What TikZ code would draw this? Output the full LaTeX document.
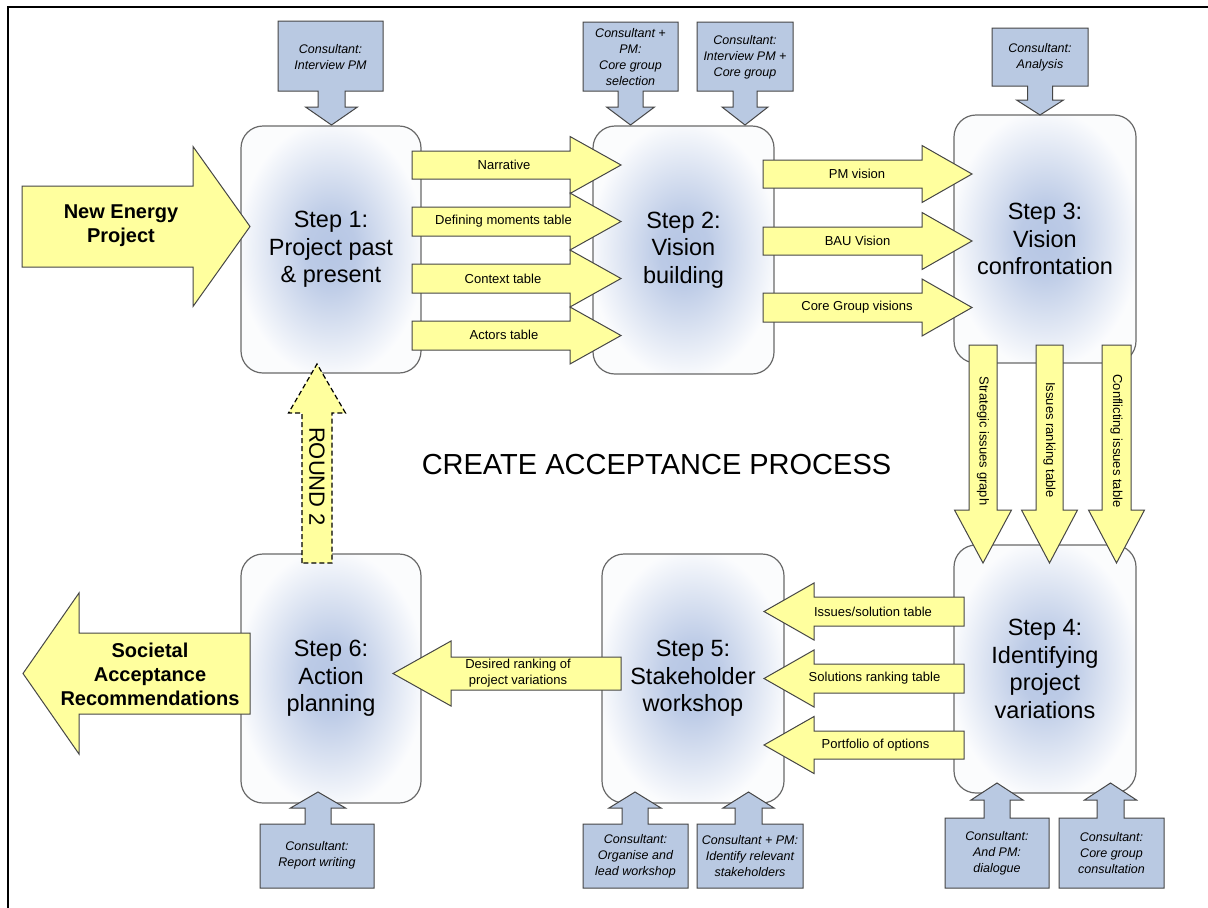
\documentclass[tikz,border=0pt]{standalone}
\usepackage{fontspec}
\setmainfont{Liberation Sans}
\definecolor{ylw}{RGB}{255,255,158}
\definecolor{cblue}{RGB}{185,201,226}
\definecolor{glowc}{RGB}{182,198,228}
\definecolor{edgec}{RGB}{70,70,70}
\definecolor{boxedge}{RGB}{105,105,105}
\pgfdeclareradialshading{glow}{\pgfpoint{0bp}{0bp}}{color(0bp)=(glowc); color(7bp)=(glowc!92!white); color(26bp)=(glowc!6!white); color(50bp)=(glowc!6!white)}
% block arrow, horizontal: style, tail x, head-base x, tip x, centre y, shaft half, head half
\newcommand{\HArrow}[7]{\draw[#1] ({#2},{#5-#6}) -- ({#3},{#5-#6}) -- ({#3},{#5-#7}) -- ({#4},{#5}) -- ({#3},{#5+#7}) -- ({#3},{#5+#6}) -- ({#2},{#5+#6}) -- cycle;}
% block arrow, vertical: style, tail y, head-base y, tip y, centre x, shaft half, head half
\newcommand{\VArrow}[7]{\draw[#1] ({#5-#6},{#2}) -- ({#5-#6},{#3}) -- ({#5-#7},{#3}) -- ({#5},{#4}) -- ({#5+#7},{#3}) -- ({#5+#6},{#3}) -- ({#5+#6},{#2}) -- cycle;}
% callout: x1, far y, x2, near y, arrow x, shaft half, head half, head-base y, tip y
\newcommand{\Callout}[9]{\draw[callshape] ({#1},{#2}) -- ({#3},{#2}) -- ({#3},{#4}) -- ({#5+#6},{#4}) -- ({#5+#6},{#8}) -- ({#5+#7},{#8}) -- ({#5},{#9}) -- ({#5-#7},{#8}) -- ({#5-#6},{#8}) -- ({#5-#6},{#4}) -- ({#1},{#4}) -- cycle;}
\tikzset{
  stepbox/.style={draw=boxedge, line width=1.2pt, rounded corners=22pt, shade, shading=glow,
    align=center, inner sep=0pt, font=\fontsize{23.5}{27.5}\selectfont},
  yarrow/.style={fill=ylw, draw=edgec, line width=1pt, line join=miter},
  rarrow/.style={fill=ylw, draw=black, line width=1.2pt, dash pattern=on 5pt off 3pt},
  callshape/.style={fill=cblue, draw=edgec, line width=1pt},
  lbl/.style={inner sep=0pt, font=\fontsize{13}{16}\selectfont, align=center},
  calltxt/.style={inner sep=0pt, font=\fontsize{12.5}{16}\selectfont\itshape, align=center},
  bigtxt/.style={inner sep=0pt, font=\fontsize{20}{24}\selectfont\bfseries, align=center}
}
\begin{document}
\begin{tikzpicture}[x=1pt,y=-1pt]
\useasboundingbox (0,0) rectangle (1208,908);
\fill[white] (0,0) rectangle (1208,908);
\draw[line width=1.5pt] (8,908) -- (8,7) -- (1208,7);

% process steps
\node[stepbox, minimum width=180pt, minimum height=247pt] (s1) at (331,249.5) {Step 1:\\Project past\\\& present};
\node[stepbox, minimum width=181pt, minimum height=248pt] (s2) at (683.5,250) {Step 2:\\Vision\\building};
\node[stepbox, minimum width=182pt, minimum height=248pt] (s3) at (1045,239) {Step 3:\\Vision\\confrontation};
\node[stepbox, minimum width=182pt, minimum height=248pt] (s4) at (1045,669) {Step 4:\\Identifying\\project\\variations};
\node[stepbox, minimum width=182pt, minimum height=249pt] (s5) at (693,678.5) {Step 5:\\Stakeholder\\workshop};
\node[stepbox, minimum width=180pt, minimum height=249pt] (s6) at (331,678.5) {Step 6:\\Action\\planning};

% title
\node[inner sep=0pt, font=\fontsize{29}{34}\selectfont] (title) at (656.5,464.5) {CREATE ACCEPTANCE PROCESS};

% input / output arrows
\HArrow{yarrow}{22}{193}{250}{226.5}{40.5}{80}
\node[bigtxt] (inp) at (121,226) {New Energy\\Project};
\HArrow{yarrow}{250}{79}{23}{673.5}{40.5}{80.5}
\node[bigtxt] (outp) at (150,674) {Societal\\Acceptance\\Recommendations};

% step 1 -> step 2
\HArrow{yarrow}{412}{570}{621}{165}{14}{28.5}
\HArrow{yarrow}{412}{570}{621}{221.5}{14.5}{28.5}
\HArrow{yarrow}{412}{570}{621}{278.5}{14.5}{28.5}
\HArrow{yarrow}{412}{570}{621}{335.5}{14.5}{28.5}
\node[lbl] (a1) at (504,164.5) {Narrative};
\node[lbl] (a2) at (503.5,221.5) {Defining moments table};
\node[lbl] (a3) at (503,278.5) {Context table};
\node[lbl] (a4) at (504,335) {Actors table};

% step 2 -> step 3
\HArrow{yarrow}{763}{922}{972}{174}{14}{28.5}
\HArrow{yarrow}{763}{922}{972}{241}{14}{28.5}
\HArrow{yarrow}{763}{922}{972}{307.5}{14.5}{28.5}
\node[lbl] (b1) at (857,174) {PM vision};
\node[lbl] (b2) at (857.5,241) {BAU Vision};
\node[lbl] (b3) at (857,307.5) {Core Group visions};

% step 3 -> step 4
\VArrow{yarrow}{345}{510}{563}{983}{14}{28.5}
\VArrow{yarrow}{345}{510}{563}{1049.5}{13.5}{28}
\VArrow{yarrow}{345}{510}{563}{1116.5}{14.5}{28}
\node[lbl, rotate=-90] (c1) at (983,441) {Strategic issues graph};
\node[lbl, rotate=-90] (c2) at (1049.5,440) {Issues ranking table};
\node[lbl, rotate=-90] (c3) at (1116.5,441) {Conflicting issues table};

% step 4 -> step 5
\HArrow{yarrow}{964}{814}{764}{611.5}{14.5}{28.5}
\HArrow{yarrow}{964}{814}{764}{678.5}{14.5}{28.5}
\HArrow{yarrow}{964}{814}{764}{745}{14}{28.5}
\node[lbl] (d1) at (873,611.5) {Issues/solution table};
\node[lbl] (d2) at (874.5,678.5) {Solutions ranking table};
\node[lbl] (d3) at (875.5,745) {Portfolio of options};

% step 5 -> step 6
\HArrow{yarrow}{621}{451}{393}{673.5}{16.5}{32.5}
\node[lbl] (e1) at (518,673.5) {Desired ranking of\\project variations};

% round 2
\VArrow{rarrow}{563}{413}{364}{317}{15}{28.5}
\node[inner sep=0pt, rotate=-90, font=\fontsize{22}{26}\selectfont] (r2) at (317,476.5) {ROUND 2};

% consultant inputs (top)
\Callout{278}{21}{383}{91}{331.5}{13.5}{26}{107}{125}
\node[calltxt] (k1) at (330.5,57) {Consultant:\\Interview PM};
\Callout{583}{22}{678}{91}{630.5}{12.5}{24}{107}{125}
\node[calltxt] (k2) at (630.5,57) {Consultant +\\PM:\\Core group\\selection};
\Callout{697}{22}{793}{91}{745}{12}{23}{107}{125}
\node[calltxt] (k3) at (745,57) {Consultant:\\Interview PM +\\Core group};
\Callout{992}{28}{1088}{86}{1040}{12.5}{23.5}{100}{115}
\node[calltxt] (k4) at (1040,57.5) {Consultant:\\Analysis};

% consultant inputs (bottom)
\Callout{260}{888}{374}{824}{318}{13}{27.5}{808}{792}
\node[calltxt] (k5) at (317,855) {Consultant:\\Report writing};
\Callout{583}{888}{688}{824}{635}{13}{26}{808}{792}
\node[calltxt] (k6) at (635.5,856) {Consultant:\\Organise and\\lead workshop};
\Callout{697}{888}{803}{824}{748.5}{13.5}{25.5}{808}{792}
\node[calltxt] (k7) at (750,856) {Consultant + PM:\\Identify relevant\\stakeholders};
\Callout{945}{888}{1049}{818}{997}{13}{26}{800}{783}
\node[calltxt] (k8) at (997,853) {Consultant:\\And PM:\\dialogue};
\Callout{1059}{888}{1164}{818}{1110.5}{13.5}{26}{800}{783}
\node[calltxt] (k9) at (1111.5,853) {Consultant:\\Core group\\consultation};
\end{tikzpicture}
\end{document}
